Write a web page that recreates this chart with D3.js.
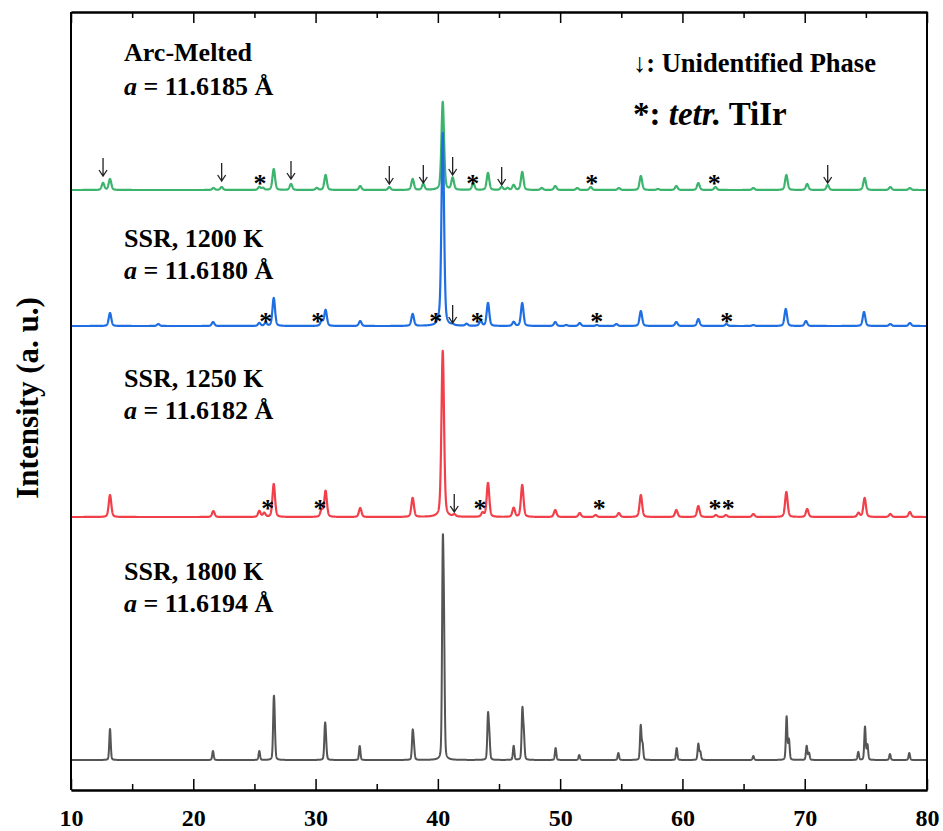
<!DOCTYPE html>
<html><head><meta charset="utf-8">
<script src="https://cdn.jsdelivr.net/npm/d3@7"></script>
<style>
body{margin:0;background:#fff}
text{font-family:"Liberation Serif","Times New Roman",serif;}
</style>
</head><body>
<svg id="c" width="943" height="831"></svg>
<script>
// ---------- data ----------
const xTicks = [10, 20, 30, 40, 50, 60, 70, 80];
const xMinorTicks = [15, 25, 35, 45, 55, 65, 75];
const yTitle = "Intensity (a. u.)";
const sampleNames = ["Arc-Melted", "SSR, 1200 K", "SSR, 1250 K", "SSR, 1800 K"];
const latticeValues = ["11.6185", "11.6180", "11.6182", "11.6194"];
const offsets = [600, 464, 273, 30];           // baseline of each pattern (a.u.)
const legendArrow = "Unidentified Phase";
const legendStarItalic = "tetr.";
const legendStarPhase = "TiIr";

// peaks [2theta, intensity a.u.]
const peaksArc = [[12.62,7],[13.19,11],[21.65,2],[22.32,3],[25.40,3],[25.70,2],[26.58,21],[27.99,6],[30.10,2],[30.82,15],
  [33.65,4],[36.03,3],[37.94,11],[38.81,6],[40.40,88],[41.21,12],[42.90,7],[44.10,17],[45.22,3],[45.70,2],[46.20,5],[46.90,18],
  [48.50,2],[49.60,4],[51.40,2],[52.50,3],[54.80,2],[56.60,14],[58.00,1],[59.50,4],[61.30,7],[62.70,3],[65.80,2],[68.50,15],
  [70.20,6],[71.88,5],[74.90,12],[77.00,3],[78.60,2]];
const peaks1200 = [[13.19,13],[17.14,2],[21.62,4],[25.40,3],[25.92,3],[26.58,28],[30.50,5],[30.82,16],[33.65,5],[37.94,12],
  [40.04,4],[40.40,193],[41.21,1],[42.35,2],[43.50,5],[44.10,23],[46.20,4],[46.90,23],[49.60,4],[50.50,1],[51.60,3],[53.00,1],
  [54.60,2],[56.60,15],[59.50,4],[61.30,7],[63.60,2],[65.80,1],[68.45,17],[70.10,5],[74.85,14],[77.00,2],[78.60,3]];
const peaks1250 = [[13.19,22],[21.64,6],[25.40,6],[25.80,4],[26.58,33],[30.50,7],[30.82,26],[33.65,9],[37.94,19],[40.40,166],
  [41.35,2],[43.66,4],[44.10,34],[46.20,9],[46.90,32],[49.60,7],[51.60,4],[52.90,2],[54.80,4],[56.60,22],[59.50,7],[61.30,11],
  [62.74,2],[63.56,2],[65.80,3],[68.50,25],[70.20,8],[74.40,4],[74.90,19],[77.00,3],[78.60,5]];
const peaks1800 = [[13.19,31],[21.61,9],[25.40,9],[26.58,50],[26.65,25],[30.77,31],[30.85,14],[33.61,14],[37.94,27],[38.04,12],
  [40.40,192],[40.50,110],[44.10,43],[44.21,21],[46.20,14],[46.91,49],[47.03,24],[49.63,12],[51.56,5],[54.76,7],[56.59,34],[56.74,15],
  [59.53,12],[61.30,16],[61.46,8],[65.80,4],[68.52,43],[68.71,20],[70.16,14],[70.35,7],[74.38,8],[74.93,33],[75.13,15],[76.97,6],[78.55,7]];
const allPeaks = [peaksArc, peaks1200, peaks1250, peaks1800];

// markers: [2theta, height above baseline a.u.]
const starsArc = [[25.45,10],[42.85,10],[52.58,10],[62.60,10]];
const arrowsArc = [[12.62,14],[22.32,9],[27.99,11],[36.03,6],[38.81,7],[41.21,15],[45.22,5],[71.88,7]];
const stars1200 = [[25.92,8],[30.17,8],[39.82,8],[43.22,8],[52.99,8],[63.62,8]];
const arrows1200 = [[41.21,3]];
const stars1250 = [[26.08,12],[30.36,12],[43.45,12],[53.20,12],[62.66,12],[63.75,12]];
const arrows1250 = [[41.34,5]];
const stars1800 = [];
const arrows1800 = [];
const allStars = [starsArc, stars1200, stars1250, stars1800];
const allArrows = [arrowsArc, arrows1200, arrows1250, arrows1800];

// ---------- style / layout ----------
const colors = ["#3db46d", "#1f6fe3", "#f2404a", "#555555"];
const widths = [0.25, 0.25, 0.25, 0.14];
const L = 71, R = 927, T = 12, B = 790;
const svg = d3.select("#c");
const x = d3.scaleLinear().domain([10, 80]).range([L, R]);
const y = d3.scaleLinear().domain([0, B - T]).range([B, T]);

function profile(peaks, fwhm, eta) {
  const pts = [];
  for (let i = 0; i <= 7000; i++) {
    const t = 10 + i * 0.01;
    let v = 0;
    for (const [p, h] of peaks) {
      const d = t - p;
      if (Math.abs(d) > 4) continue;
      const q = 4 * d * d / (fwhm * fwhm);
      v += h * ((1 - eta) * Math.exp(-Math.LN2 * q) + eta / (1 + q));
    }
    pts.push([t, v]);
  }
  return pts;
}

const line = d3.line().x(d => x(d[0])).y(d => y(d[1]));
allPeaks.forEach((pk, i) => {
  const off = offsets[i];
  const pts = profile(pk, widths[i], i === 3 ? 0.25 : 0.35).map(d => [d[0], d[1] + off]);
  svg.append("path").attr("d", line(pts)).attr("fill", "none")
    .attr("stroke", colors[i]).attr("stroke-width", i === 3 ? 2 : 2.2).attr("stroke-linejoin", "round");
});

// markers
allStars.forEach((st, i) => {
  st.forEach(([p, h]) => {
    svg.append("text").attr("x", x(p)).attr("y", y(offsets[i] + h) + 12)
      .attr("text-anchor", "middle").attr("font-size", 26).attr("font-weight", "bold").text("*");
  });
});
allArrows.forEach((ar, i) => {
  ar.forEach(([p, h]) => {
    const xx = x(p), yb = y(offsets[i] + h), yt = yb - 18;
    svg.append("path").attr("d", `M${xx},${yt}V${yb}M${xx - 4},${yb - 6}L${xx},${yb}L${xx + 4},${yb - 6}`)
      .attr("fill", "none").attr("stroke", "#222").attr("stroke-width", 1.3);
  });
});

// axes
const gB = svg.append("g").attr("transform", `translate(0,${B})`)
  .call(d3.axisBottom(x).tickValues(xTicks).tickSizeInner(-11).tickSizeOuter(0).tickPadding(19));
svg.append("g").attr("transform", `translate(0,${B})`)
  .call(d3.axisBottom(x).tickValues(xMinorTicks).tickSizeInner(-6).tickSizeOuter(0).tickFormat(""));
svg.append("g").attr("transform", `translate(0,${T})`)
  .call(d3.axisTop(x).tickValues(xTicks).tickSizeInner(-11).tickSizeOuter(0).tickFormat(""));
svg.append("g").attr("transform", `translate(0,${T})`)
  .call(d3.axisTop(x).tickValues(xMinorTicks).tickSizeInner(-6).tickSizeOuter(0).tickFormat(""));
svg.selectAll(".domain").attr("stroke", "#000").attr("stroke-width", 2);
svg.selectAll(".tick line").attr("stroke", "#000").attr("stroke-width", 1.5);
gB.selectAll(".tick text").attr("font-size", 24).attr("font-weight", "bold")
  .attr("font-family", "Liberation Serif, Times New Roman, serif").attr("fill", "#000");
svg.append("line").attr("x1", L).attr("x2", L).attr("y1", T).attr("y2", B).attr("stroke", "#000").attr("stroke-width", 2);
svg.append("line").attr("x1", R).attr("x2", R).attr("y1", T).attr("y2", B).attr("stroke", "#000").attr("stroke-width", 2);

// y title
svg.append("text").attr("transform", "translate(38,398) rotate(-90)").attr("text-anchor", "middle")
  .attr("font-size", 31).attr("font-weight", "bold").text(yTitle);

// sample labels
const labelY = [[61, 95], [247, 279], [387, 419], [580, 612]];
sampleNames.forEach((n, i) => {
  svg.append("text").attr("x", 124).attr("y", labelY[i][0]).attr("font-size", 26).attr("font-weight", "bold").text(n);
  const t = svg.append("text").attr("x", 124).attr("y", labelY[i][1]).attr("font-size", 26).attr("font-weight", "bold");
  t.append("tspan").attr("font-style", "italic").text("a");
  t.append("tspan").text(" = " + latticeValues[i] + " Å");
});

// legend
const lg1 = svg.append("text").attr("x", 633).attr("y", 72).attr("font-size", 26.5).attr("font-weight", "bold");
lg1.append("tspan").attr("font-weight", "normal").text("↓");
lg1.append("tspan").text(": " + legendArrow);
const lg2 = svg.append("text").attr("x", 633).attr("y", 125).attr("font-size", 33).attr("font-weight", "bold");
lg2.append("tspan").text("*: ");
lg2.append("tspan").attr("font-style", "italic").text(legendStarItalic);
lg2.append("tspan").text(" " + legendStarPhase);
</script>
</body></html>
